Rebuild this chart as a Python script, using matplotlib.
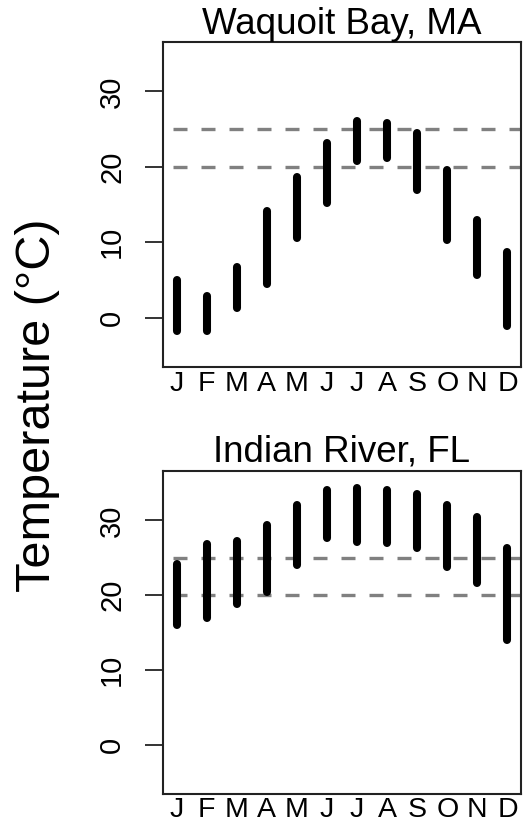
import matplotlib
matplotlib.use("Agg")
import matplotlib.pyplot as plt

plt.rcParams['font.family'] = ['Liberation Sans', 'DejaVu Sans']

months = ["J", "F", "M", "A", "M", "J", "J", "A", "S", "O", "N", "D"]
month_num = list(range(1, 13))

# monthly temperature range (min, max), deg C
waquoit_lo = [-1.8, -1.8, 1.3, 4.45, 10.5, 15.2, 20.8, 21.2, 16.9, 10.3, 5.65, -1.1]
waquoit_hi = [5.0, 2.8, 6.75, 14.1, 18.7, 23.2, 26.1, 25.8, 24.5, 19.6, 13.0, 8.66]
indian_lo = [16.0, 17.0, 18.8, 20.45, 24.0, 27.7, 27.1, 27.0, 26.3, 23.7, 21.65, 14.0]
indian_hi = [24.1, 26.8, 27.2, 29.4, 32.0, 34.1, 34.3, 34.0, 33.55, 32.0, 30.4, 26.35]

ref_lines = [20, 25]
yticks = [0, 10, 20, 30]

fig = plt.figure(figsize=(5.23, 8.24), dpi=100)
ax1 = fig.add_axes([0.3122, 0.5542, 0.6834, 0.3952])
ax2 = fig.add_axes([0.3122, 0.0364, 0.6834, 0.3920])

panels = [(ax1, waquoit_lo, waquoit_hi, "Waquoit Bay, MA", 4.8),
          (ax2, indian_lo, indian_hi, "Indian River, FL", 6.7)]

for ax, lo, hi, title, tpad in panels:
    for y in ref_lines:
        ax.axhline(y, color='#808080', lw=2.4, linestyle=(5.4, (4.2, 4.2)), zorder=1)
    for m, a, b in zip(month_num, lo, hi):
        ax.plot([m, m], [a, b], color='black', lw=5.8, solid_capstyle='round', zorder=2)
    ax.set_xlim(0.56, 12.44)
    ax.set_ylim(-6.6, 36.6)
    ax.set_xticks(month_num)
    ax.set_xticklabels(months)
    ax.set_yticks(yticks)
    ax.set_yticklabels([str(v) for v in yticks], rotation=90, va='center')
    ax.tick_params(axis='x', length=0, pad=2.5, labelsize=20.5)
    ax.tick_params(axis='y', length=12.7, width=1.4, pad=14, labelsize=21, color='#333333')
    for s in ax.spines.values():
        s.set_linewidth(1.5)
        s.set_color('#222222')
    ax.set_title(title, fontsize=26.5, pad=tpad)

fig.text(0.071, 1 - 405 / 824, "Temperature (°C)", rotation=90,
         ha='center', va='center', fontsize=35)

fig.savefig("out.png", dpi=100)
